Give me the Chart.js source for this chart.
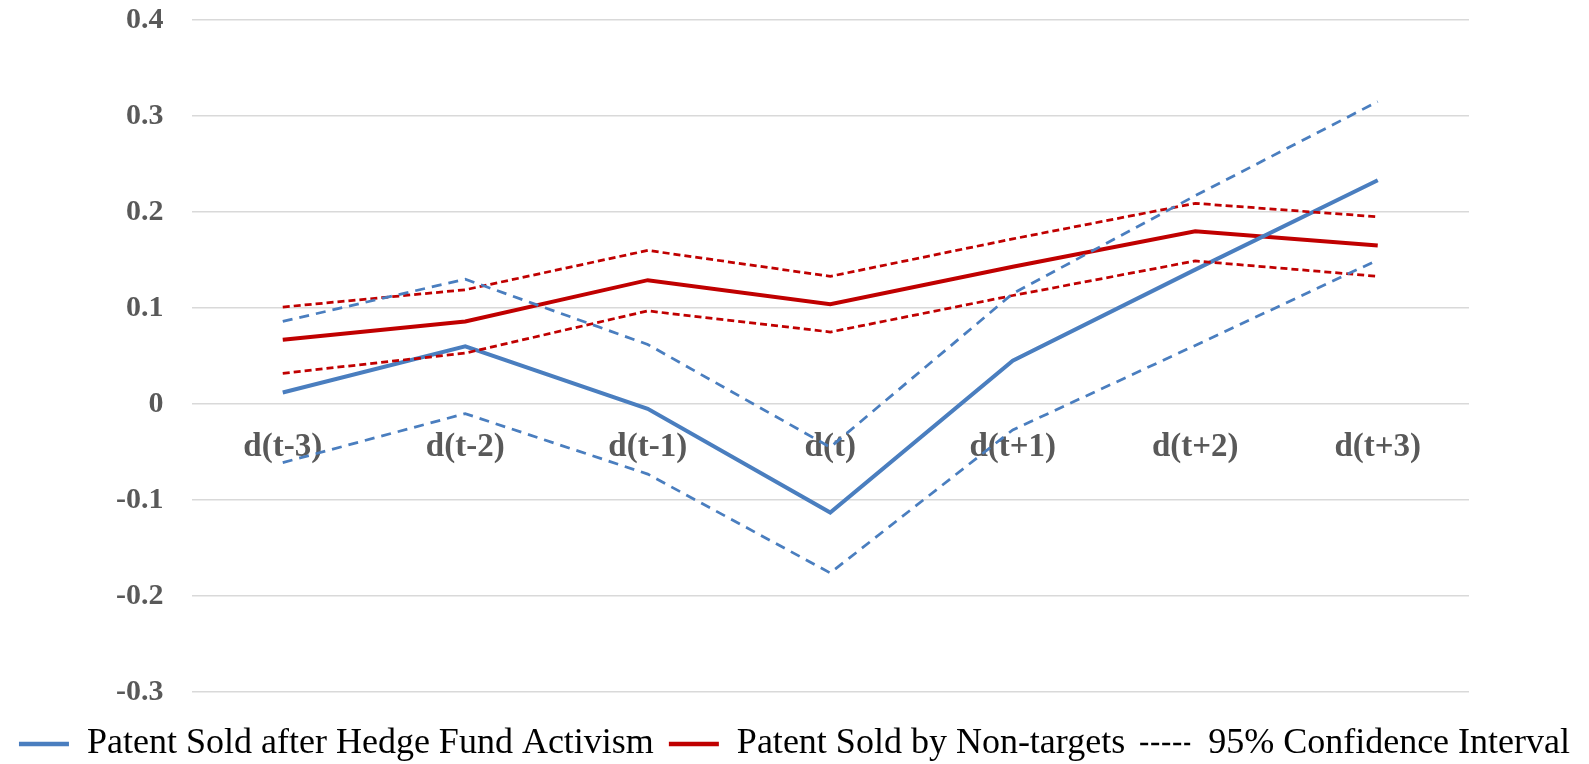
<!DOCTYPE html>
<html>
<head>
<meta charset="utf-8">
<script src="https://cdn.jsdelivr.net/npm/chart.js@4/dist/chart.umd.min.js"></script>
<style>
  html, body { margin: 0; padding: 0; background: #ffffff; }
  #wrap { width: 1589px; height: 764px; position: relative; }
</style>
</head>
<body>
<div id="wrap"><canvas id="c"></canvas></div>
<script>
const categories = ['d(t-3)', 'd(t-2)', 'd(t-1)', 'd(t)', 'd(t+1)', 'd(t+2)', 'd(t+3)'];

const hedgeFund      = [0.012, 0.060, -0.005, -0.113, 0.045, 0.140, 0.233];
const hedgeFundUpper = [0.086, 0.130, 0.062, -0.045, 0.115, 0.217, 0.315];
const hedgeFundLower = [-0.061, -0.010, -0.073, -0.176, -0.027, 0.061, 0.150];

const nonTargets      = [0.067, 0.086, 0.129, 0.104, 0.143, 0.180, 0.165];
const nonTargetsUpper = [0.101, 0.119, 0.160, 0.133, 0.172, 0.209, 0.195];
const nonTargetsLower = [0.032, 0.053, 0.097, 0.075, 0.113, 0.149, 0.133];

const yTicks = [0.4, 0.3, 0.2, 0.1, 0, -0.1, -0.2, -0.3];

const legendLabels = ['Patent Sold after Hedge Fund Activism', 'Patent Sold by Non-targets', '95% Confidence Interval'];

const BLUE = '#4A7EBF';
const RED = '#C00000';

function line(label, data, color, width, dash) {
  return {
    label: label,
    data: data,
    borderColor: color,
    backgroundColor: color,
    borderWidth: width,
    borderDash: dash,
    pointRadius: 0,
    pointHoverRadius: 0,
    tension: 0,
    fill: false,
    borderCapStyle: 'butt',
    borderJoinStyle: 'miter'
  };
}

new Chart(document.getElementById('c'), {
  type: 'line',
  data: {
    labels: categories,
    datasets: [
      line('Blue upper', hedgeFundUpper, BLUE, 2.75, [10, 7]),
      line('Blue lower', hedgeFundLower, BLUE, 2.75, [10, 7]),
      line('Red upper', nonTargetsUpper, RED, 2.75, [7, 4]),
      line('Red lower', nonTargetsLower, RED, 2.75, [7, 4]),
      line(legendLabels[0], hedgeFund, BLUE, 4, []),
      line(legendLabels[1], nonTargets, RED, 4, [])
    ]
  },
  options: {
    responsive: true,
    maintainAspectRatio: false,
    animation: false,
    events: [],
    layout: { padding: { top: 0, right: 0, bottom: -8, left: 0 } },
    scales: {
      x: {
        type: 'category',
        offset: true,
        position: { y: 0 },
        grid: { display: false, drawTicks: false },
        border: { display: false },
        ticks: {
          color: '#595959',
          padding: 24,
          maxRotation: 0,
          autoSkip: false,
          font: { family: '"Liberation Serif", "Times New Roman", serif', size: 33, weight: 'bold' }
        },
        afterFit: (s) => { s.height = 0; s.paddingLeft = 0; s.paddingRight = 0; }
      },
      xGap: {
        type: 'category',
        position: 'bottom',
        grid: { display: false, drawTicks: false },
        border: { display: false },
        ticks: { display: false },
        afterFit: (s) => { s.height = 19; s.paddingLeft = 0; s.paddingRight = 0; }
      },
      y: {
        min: -0.3,
        max: 0.4,
        afterBuildTicks: (s) => { s.ticks = yTicks.map(v => ({ value: v })); },
        grid: { color: '#D9D9D9', lineWidth: 1.5, drawTicks: false },
        border: { display: false },
        ticks: {
          color: '#595959',
          padding: 28,
          callback: (v) => (Math.round(v * 10) / 10).toString(),
          font: { family: '"Liberation Serif", "Times New Roman", serif', size: 30, weight: 'bold' }
        },
        afterFit: (s) => { s.width = 191.5; s.paddingTop = 20; s.paddingBottom = 0; }
      },
      yRight: {
        position: 'right',
        min: -0.3,
        max: 0.4,
        grid: { display: false, drawTicks: false },
        border: { display: false },
        ticks: { display: false },
        afterFit: (s) => { s.width = 120; s.paddingTop = 0; s.paddingBottom = 0; }
      }
    },
    plugins: {
      tooltip: { enabled: false },
      legend: {
        position: 'bottom',
        labels: {
          usePointStyle: true,
          pointStyleWidth: 50,
          padding: 15,
          color: '#000000',
          font: { family: '"Liberation Serif", "Times New Roman", serif', size: 36 },
          generateLabels: () => [
            { text: legendLabels[0], strokeStyle: BLUE, fillStyle: BLUE, lineWidth: 4.5, lineDash: [], pointStyle: 'line', hidden: false, datasetIndex: 4, fontColor: '#000' },
            { text: legendLabels[1], strokeStyle: RED, fillStyle: RED, lineWidth: 4.5, lineDash: [], pointStyle: 'line', hidden: false, datasetIndex: 5, fontColor: '#000' },
            { text: legendLabels[2], strokeStyle: '#000000', fillStyle: '#000000', lineWidth: 2.5, lineDash: [8, 3], pointStyle: 'line', hidden: false, datasetIndex: 0, fontColor: '#000' }
          ]
        }
      }
    }
  }
});
</script>
</body>
</html>
